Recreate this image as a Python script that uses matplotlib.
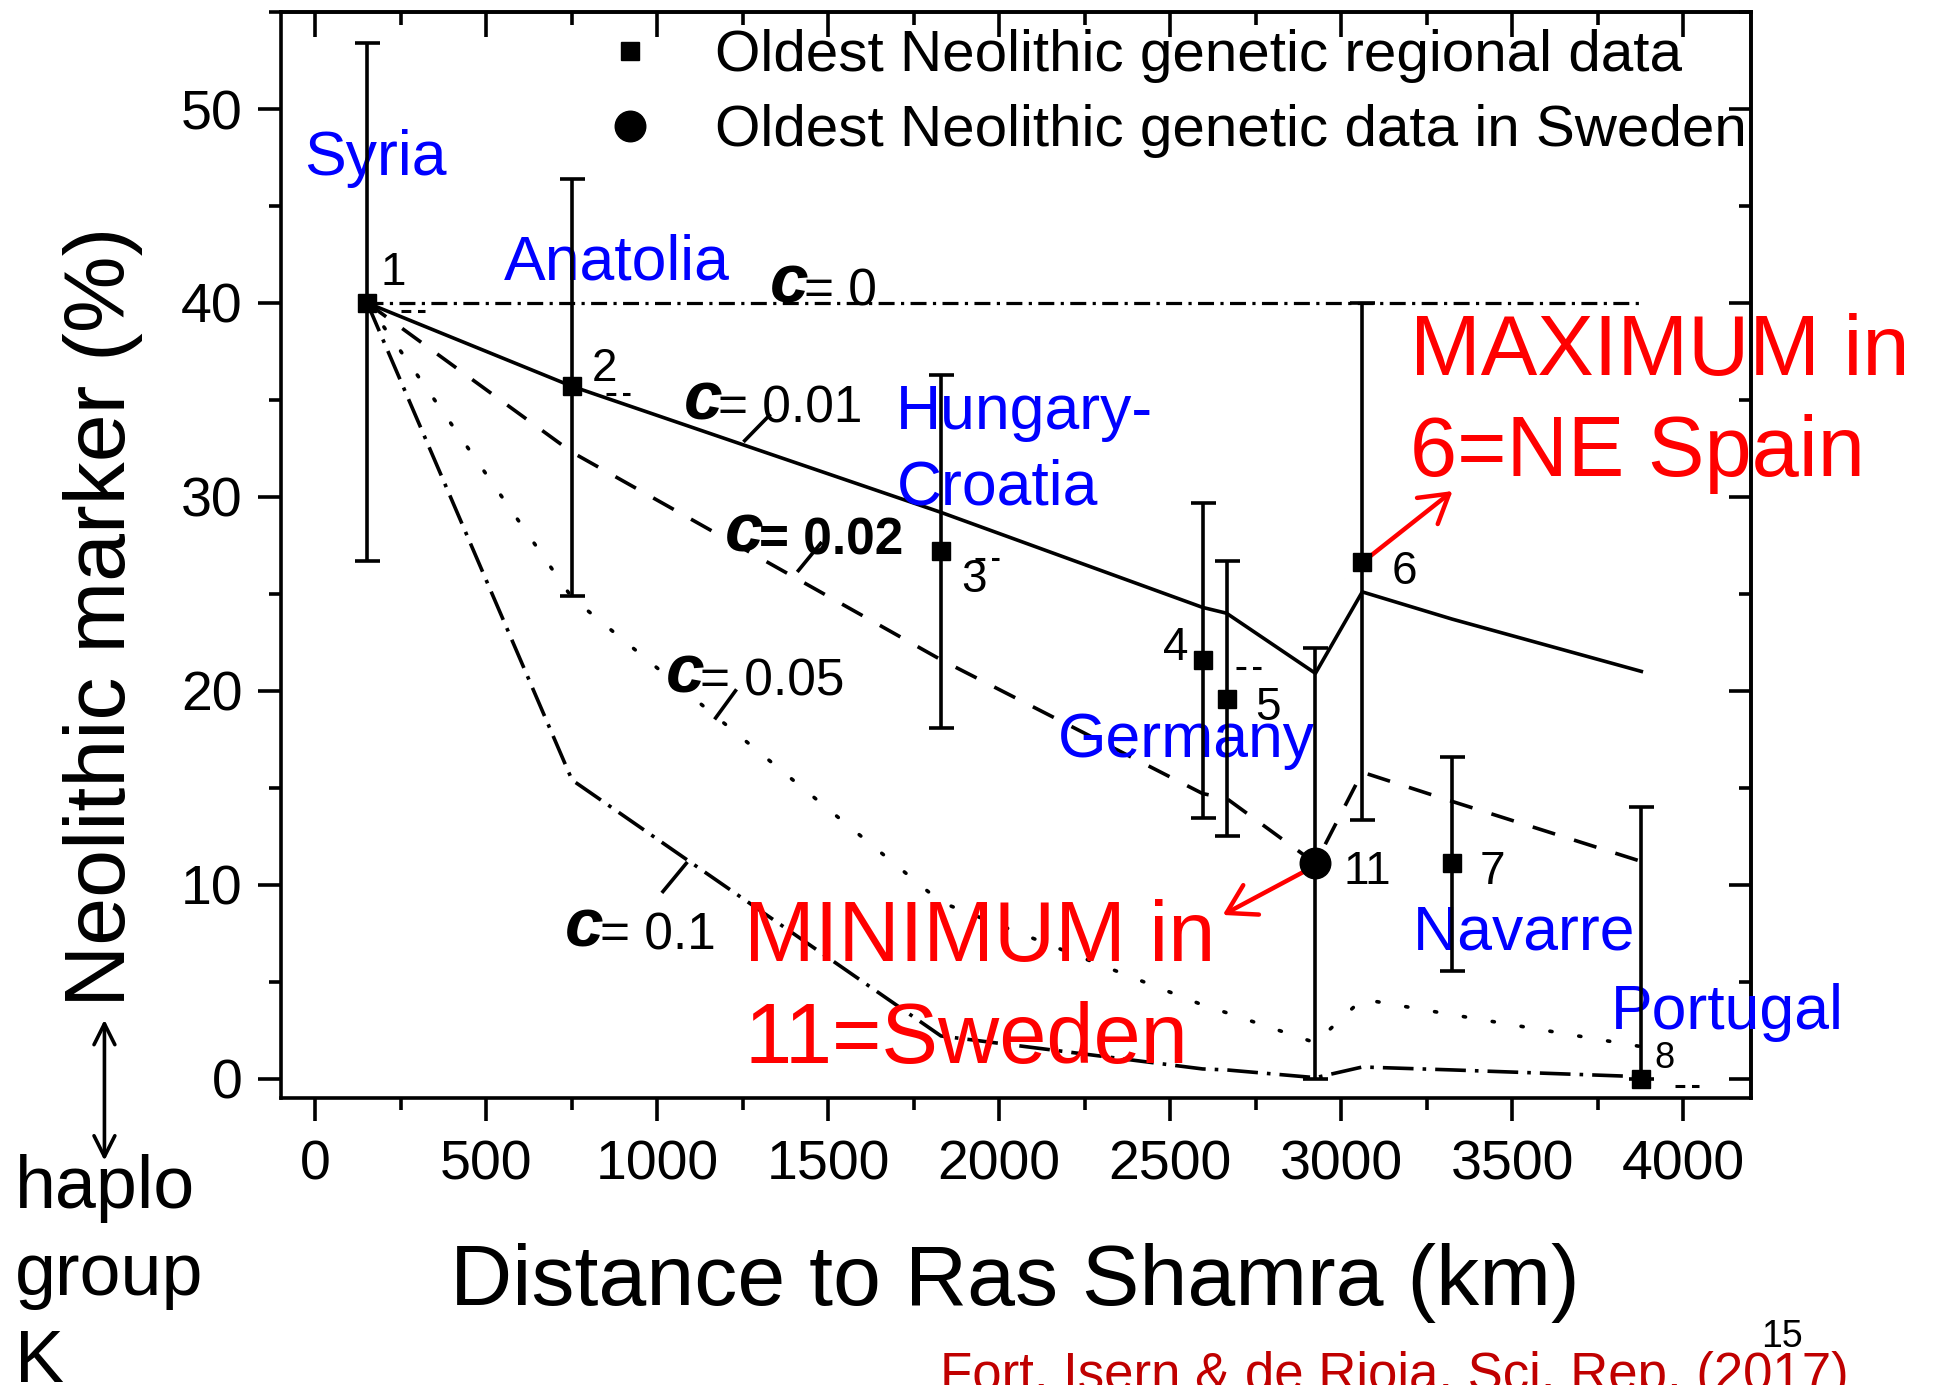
import matplotlib
matplotlib.use("Agg")
import matplotlib.pyplot as plt
from matplotlib.lines import Line2D
from matplotlib.ticker import MultipleLocator

plt.rcParams['font.family'] = 'Liberation Sans'

# regional sites 1-8: distance to Ras Shamra (km) and Neolithic marker (%)
site_ids = ["1", "2", "3", "4", "5", "6", "7", "8"]
site_km = [152, 751, 1830, 2595, 2665, 3062, 3324, 3878]
site_pct = [40.0, 35.7, 27.2, 21.6, 19.6, 26.65, 11.1, 0.0]
err_lo = [13.3, 10.8, 9.1, 8.15, 7.1, 13.3, 5.55, 0.0]
err_hi = [13.4, 10.7, 9.1, 8.1, 7.1, 13.35, 5.5, 14.0]

# Sweden (site 11)
swe_id = "11"
swe_km = 2925
swe_pct = 11.1
swe_err = 11.1

# model predictions at the sites, sorted by distance (1,2,3,4,5,11,6,7,8)
model_km = [152, 751, 1830, 2595, 2665, 2925, 3062, 3324, 3878]
c_0 = [40, 40, 40, 40, 40, 40, 40, 40, 40]
c_001 = [40, 35.7, 29.2, 24.3, 24.0, 20.9, 25.1, 23.7, 21.0]
c_002 = [40, 32.3, 21.6, 14.7, 14.45, 11.1, 15.8, 14.3, 11.2]
c_005 = [40, 24.8, 9.1, 3.8, 3.4, 1.85, 4.1, 3.3, 1.65]
c_01 = [40, 15.4, 2.2, 0.5, 0.45, 0.05, 0.6, 0.45, 0.1]

regions = ["Syria", "Anatolia", "Hungary-", "Croatia", "Germany", "Navarre", "Portugal"]
region_xy = [(-32, 46.6), (553, 41.2), (1697, 33.5), (1700, 29.6),
             (2172, 16.6), (3210, 6.66), (3788, 2.54)]

id_xy = [(190, 40.9), (809, 36.0), (1890, 25.1), (2478, 21.6),
         (2750, 18.5), (3148, 25.5), (3405, 10.05), (3917, 0.56)]
swe_id_xy = (3008, 10.05)

blue = "#0000ff"
red = "#ff0000"
lw = 2.6

fig = plt.figure(figsize=(19.34, 13.85), dpi=100)
ax = fig.add_axes([0.1453, 0.2072, 0.7603, 0.7841])

# model curves
ax.plot(model_km, c_0, color='k', lw=2.3, ls=(0, (5, 2, 1, 2)))
ax.plot(model_km, c_001, color='k', lw=lw, ls='-')
ax.plot(model_km, c_002, color='k', lw=lw, ls=(0, (6.5, 5.5)))
ax.plot(model_km, c_005, color='k', lw=lw, ls=(0, (0.6, 7.5)), dash_capstyle='round')
ax.plot(model_km, c_01, color='k', lw=lw, ls=(0, (8.5, 2.5, 1, 2.5)))

# data with error bars
ax.errorbar(site_km, site_pct, yerr=[err_lo, err_hi], fmt='s', color='k',
            ms=13.5, elinewidth=lw, capsize=9, capthick=lw, zorder=5)
ax.errorbar([swe_km], [swe_pct], yerr=[[swe_err], [swe_err]], fmt='o', color='k',
            ms=22, elinewidth=lw, capsize=9, capthick=lw, zorder=5)

# small dash marks right of some points
for i in [0, 1, 2, 3, 7]:
    ax.plot([site_km[i] + 98, site_km[i] + 170], [site_pct[i] - 0.4] * 2,
            color='k', lw=2.2, ls=(0, (3.2, 2.2)))

# c labels with leader ticks
c_labels = ["0", "0.01", "0.02", "0.05", "0.1"]
c_label_xy = [(1330, 40.0), (1078, 34.0), (1198, 27.2), (1025, 19.9), (731, 6.8)]
c_leaders = [None, ((1256, 32.9), (1328, 34.2)), ((1413, 26.2), (1478, 27.6)),
             ((1171, 18.6), (1229, 20.0)), ((1017, 9.65), (1085, 11.1))]
for lab, (x, y), lead in zip(c_labels, c_label_xy, c_leaders):
    bold = lab == "0.02"
    ct = ax.text(x, y, "c", fontsize=50, fontweight='bold', fontstyle='italic',
                 va='baseline', ha='left')
    ax.annotate("= " + lab, xy=(1, 0), xycoords=ct, xytext=(-3, 0),
                textcoords='offset points', fontsize=37,
                fontweight='bold' if bold else 'normal', va='bottom', ha='left')
    if lead is not None:
        ax.plot([lead[0][0], lead[1][0]], [lead[0][1], lead[1][1]], color='k', lw=lw)

# region names
for name, (x, y) in zip(regions, region_xy):
    ax.text(x, y, name, color=blue, fontsize=45, va='baseline', ha='left')

# site numbers
for sid, (x, y) in zip(site_ids, id_xy):
    ax.text(x, y, sid, fontsize=26 if sid == "8" else 33, va='baseline', ha='left')
ax.text(swe_id_xy[0], swe_id_xy[1], swe_id, fontsize=33, va='baseline', ha='left')

# red annotations
ax.annotate("", xy=(3326, 30.3), xytext=(3075, 26.8),
            arrowprops=dict(arrowstyle='->,head_length=0.5,head_width=0.3',
                            color=red, lw=3.2, mutation_scale=40, shrinkA=0, shrinkB=0))
ax.annotate("", xy=(2654, 8.44), xytext=(2905, 10.8),
            arrowprops=dict(arrowstyle='->,head_length=0.5,head_width=0.3',
                            color=red, lw=3.2, mutation_scale=40, shrinkA=0, shrinkB=0))
ax.text(3202, 36.3, "MAXIMUM in", color=red, fontsize=61, va='baseline')
ax.text(3202, 31.1, "6=NE Spain", color=red, fontsize=61, va='baseline')
ax.text(1255, 6.05, "MINIMUM in", color=red, fontsize=61, va='baseline')
ax.text(1255, 0.82, "11=Sweden", color=red, fontsize=61, va='baseline')

# legend
handles = [Line2D([], [], ls='none', marker='s', color='k', ms=13.5),
           Line2D([], [], ls='none', marker='o', color='k', ms=22)]
ax.legend(handles, ["Oldest Neolithic genetic regional data",
                    "Oldest Neolithic genetic data in Sweden"],
          loc='upper left', bbox_to_anchor=(0.2177, 0.984), frameon=False,
          fontsize=42, handlelength=1.0, handletextpad=0.95, labelspacing=0.36,
          borderpad=0, borderaxespad=0)

# axes
ax.set_xlim(-100, 4200)
ax.set_ylim(-1, 55)
ax.xaxis.set_major_locator(MultipleLocator(500))
ax.xaxis.set_minor_locator(MultipleLocator(250))
ax.yaxis.set_major_locator(MultipleLocator(10))
ax.yaxis.set_minor_locator(MultipleLocator(5))
ax.tick_params(which='both', direction='out', width=lw, labelsize=40)
ax.tick_params(which='major', length=16.5)
ax.tick_params(which='minor', length=8.5)
ax.tick_params(axis='x', pad=13)
ax.tick_params(axis='y', pad=11)
for s in ax.spines.values():
    s.set_linewidth(lw)

secx = ax.secondary_xaxis('top')
secx.xaxis.set_major_locator(MultipleLocator(500))
secx.xaxis.set_minor_locator(MultipleLocator(250))
secx.tick_params(which='both', direction='in', width=lw, labeltop=False)
secx.tick_params(which='major', length=18)
secx.tick_params(which='minor', length=9)
secy = ax.secondary_yaxis('right')
secy.yaxis.set_major_locator(MultipleLocator(10))
secy.yaxis.set_minor_locator(MultipleLocator(5))
secy.tick_params(which='both', direction='in', width=lw, labelright=False)
secy.tick_params(which='major', length=16)
secy.tick_params(which='minor', length=8.5)
secx.spines['top'].set_linewidth(lw)
secy.spines['right'].set_linewidth(lw)

# axis titles and side notes
fig.text(0.053, 0.5545, "Neolithic marker (%)", rotation=90, fontsize=62,
         ha='center', va='center')
fig.text(0.525, 0.058, "Distance to Ras Shamra (km)", fontsize=62,
         ha='center', va='baseline')
fig.text(0.0077, 0.128, "haplo", fontsize=53, va='baseline')
fig.text(0.0077, 0.065, "group", fontsize=53, va='baseline')
fig.text(0.0077, 0.002, "K", fontsize=53, va='baseline')
fig.add_artist(matplotlib.patches.FancyArrowPatch(
    (0.054, 0.2657), (0.054, 0.160), transform=fig.transFigure,
    arrowstyle='<->,head_length=0.5,head_width=0.25', mutation_scale=30,
    color='k', lw=lw))
fig.text(0.9105, 0.0274, "15", fontsize=27, va='baseline')
fig.text(0.486, -0.0036, "Fort, Isern & de Rioja, Sci. Rep. (2017)",
         color='#c00000', fontsize=38, va='baseline')

fig.savefig("out.png", dpi=100)
